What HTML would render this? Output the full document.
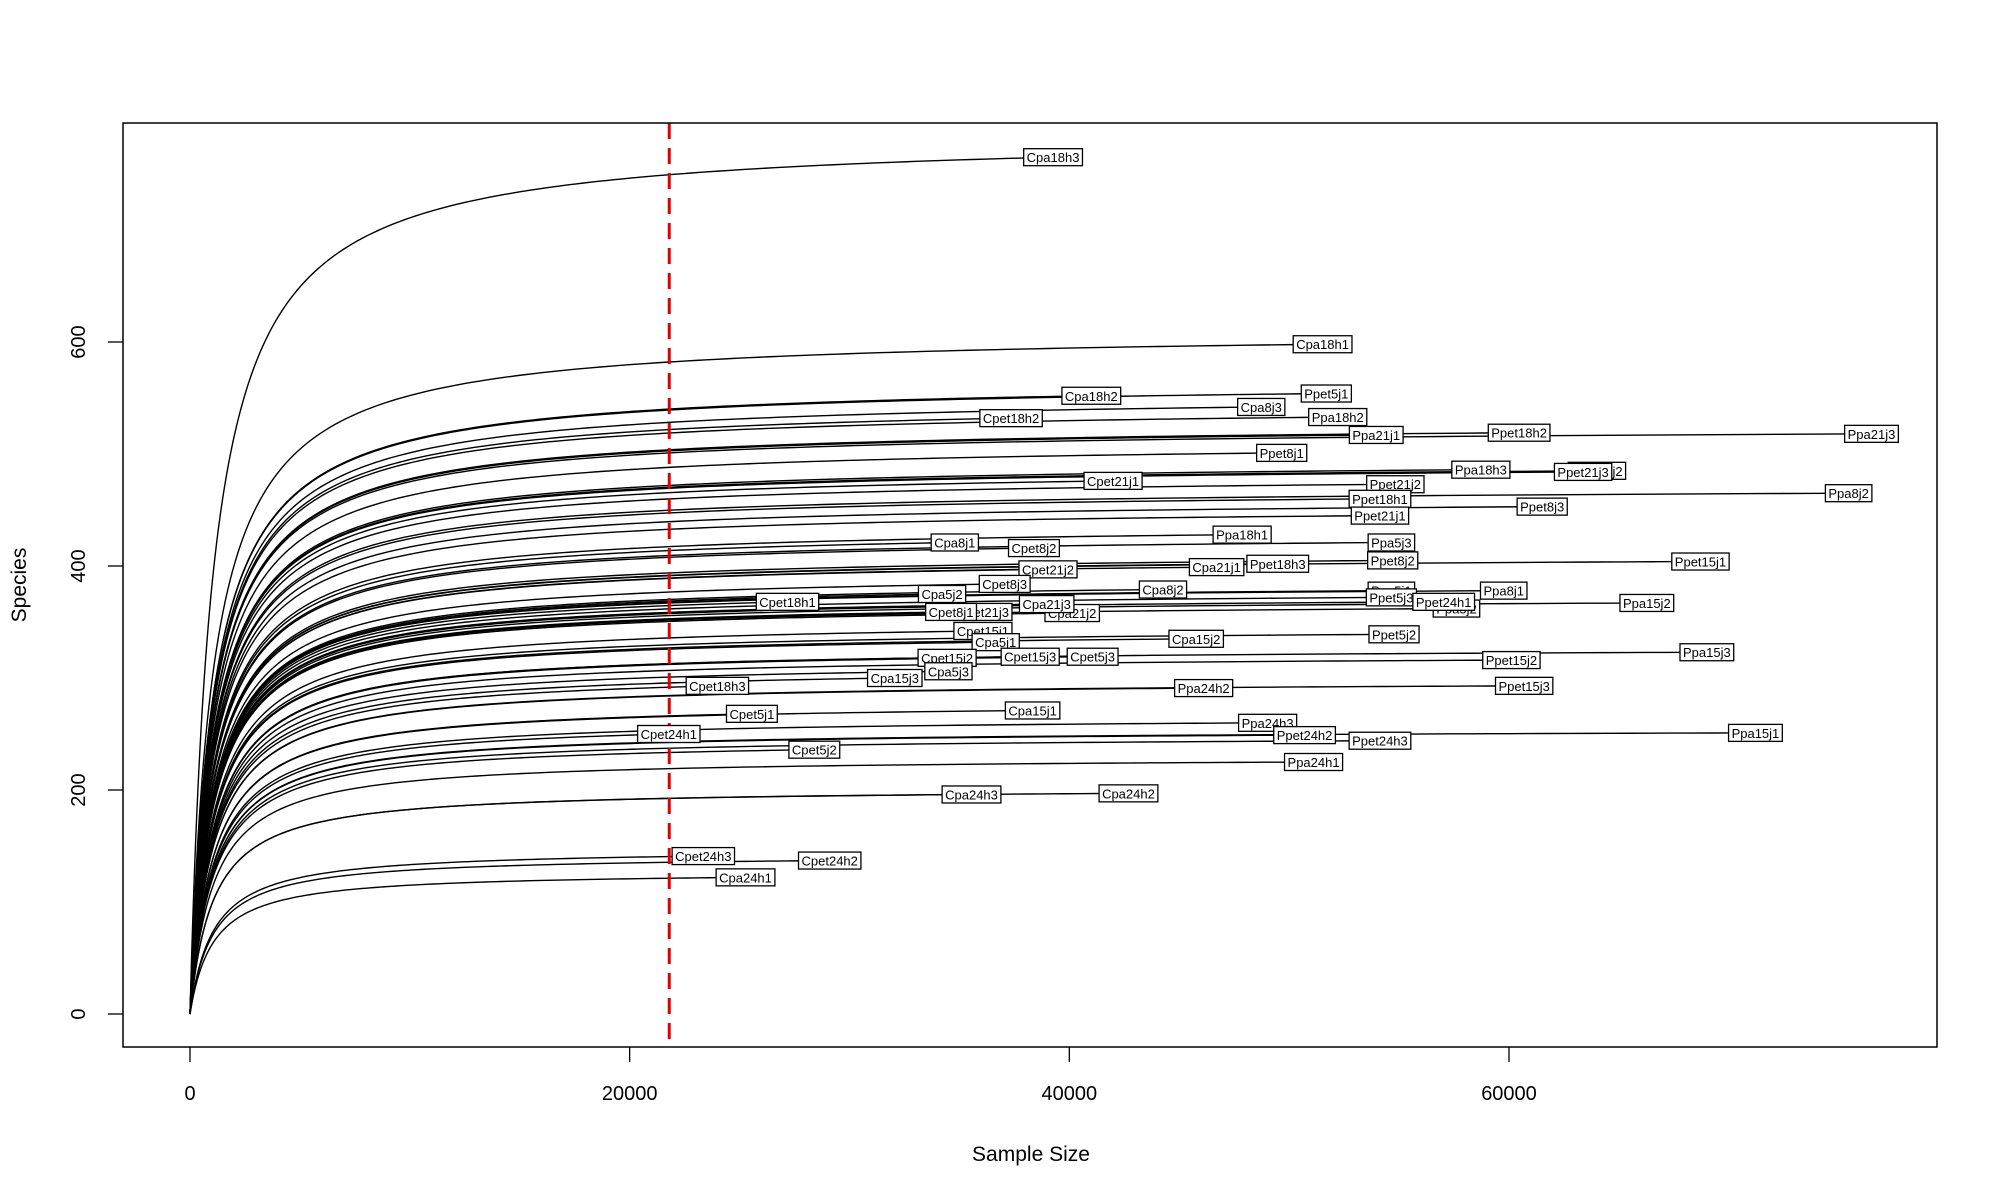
<!DOCTYPE html>
<html><head><meta charset="utf-8"><title>Rarefaction curves</title>
<style>
html,body{margin:0;padding:0;background:#fff;}
svg{display:block;font-family:"Liberation Sans",sans-serif;}
</style></head>
<body>
<svg id="chart" width="2000" height="1200" viewBox="0 0 2000 1200" xmlns="http://www.w3.org/2000/svg">
<rect x="0" y="0" width="2000" height="1200" fill="#fff"/>
<g id="curves"></g>
<g id="threshold"></g>
<g id="labels"></g>
<rect x="123" y="123" width="1814" height="924" fill="none" stroke="#000" stroke-width="1.5"/>
<g id="axes"></g>
<text x="1031" y="1161" font-size="21" text-anchor="middle">Sample Size</text>
<text transform="translate(26,585) rotate(-90)" font-size="21" text-anchor="middle">Species</text>
</svg>
<script>
const sampleNames = ["Cpa18h3","Cpa18h1","Cpa18h2","Ppet5j1","Cpa8j3","Cpet18h2","Ppa18h2","Ppa21j1","Ppet18h2","Ppa21j3","Ppet8j1","Cpet21j1","Ppa18h3","Ppet21j3b","Ppet21j3","Ppet21j2","Ppet18h1","Ppa8j2","Ppet8j3","Ppet21j1","Ppa18h1","Cpa8j1","Cpet8j2","Ppa5j3","Ppet8j2","Ppet15j1","Cpet21j2","Cpa21j1","Ppet18h3","Cpet8j3","Cpa8j2","Cpa5j2","Cpet18h1","Ppa5j1","Ppet5j3","Ppa5j2","Ppet24h1","Ppa8j1","Ppa15j2","Cpet21j3","Cpa21j2","Cpa21j3","Cpet8j1","Cpet15j1","Cpa5j1","Cpa15j2","Ppet5j2","Cpet15j2","Cpet15j3","Cpet5j3","Ppet15j2","Ppa15j3","Cpa5j3","Cpa15j3","Cpet18h3","Ppa24h2","Ppet15j3","Cpet5j1","Cpa15j1","Ppa24h3","Ppet24h2","Cpet24h1","Ppet24h3","Ppa15j1","Cpet5j2","Ppa24h1","Cpa24h3","Cpa24h2","Cpet24h3","Cpet24h2","Cpa24h1"];
const sampleSizes = [39260,51520,41000,51690,48730,37350,52210,53960,60460,76490,49660,41990,58720,64000,63370,54830,54130,75450,61510,54130,47860,34790,38390,54650,54710,68710,39030,46700,49480,37060,44260,34210,27180,54650,54650,57610,57030,59760,66270,36070,40130,38970,34620,36070,36650,45770,54770,34440,38220,41060,60110,69000,34500,32060,23990,46110,60690,25560,38330,49020,50700,21780,54130,71210,28400,51110,35550,42690,23350,29100,25270];
const speciesTotals = [765,598,552,554,542,532,533,517,519,518,501,476,486,485,484,473,460,465,453,445,428,421,416,421,405,404,397,399,402,384,379,375,368,378,372,362,368,378,367,359,358,366,359,342,332,335,339,318,319,319,316,323,306,300,293,291,293,268,271,260,249,250,244,251,236,225,196,197,141,137,122];
const labelTexts = ["Cpa18h3","Cpa18h1","Cpa18h2","Ppet5j1","Cpa8j3","Cpet18h2","Ppa18h2","Ppa21j1","Ppet18h2","Ppa21j3","Ppet8j1","Cpet21j1","Ppa18h3","Ppet21j2","Ppet21j3","Ppet21j2","Ppet18h1","Ppa8j2","Ppet8j3","Ppet21j1","Ppa18h1","Cpa8j1","Cpet8j2","Ppa5j3","Ppet8j2","Ppet15j1","Cpet21j2","Cpa21j1","Ppet18h3","Cpet8j3","Cpa8j2","Cpa5j2","Cpet18h1","Ppa5j1","Ppet5j3","Ppa5j2","Ppet24h1","Ppa8j1","Ppa15j2","Cpet21j3","Cpa21j2","Cpa21j3","Cpet8j1","Cpet15j1","Cpa5j1","Cpa15j2","Ppet5j2","Cpet15j2","Cpet15j3","Cpet5j3","Ppet15j2","Ppa15j3","Cpa5j3","Cpa15j3","Cpet18h3","Ppa24h2","Ppet15j3","Cpet5j1","Cpa15j1","Ppa24h3","Ppet24h2","Cpet24h1","Ppet24h3","Ppa15j1","Cpet5j2","Ppa24h1","Cpa24h3","Cpa24h2","Cpet24h3","Cpet24h2","Cpa24h1"];
const xTicks = [0,20000,40000,60000];
const yTicks = [0,200,400,600];
const thresholdSize = [21800];
const halfSat = [1050];

const NS="http://www.w3.org/2000/svg";
function sx(v){return 190 + v*(1509-190)/60000;}
function sy(v){return 1014 - v*(1014-342)/600;}
function mk(tag,attrs,parent){const e=document.createElementNS(NS,tag);for(const k in attrs)e.setAttribute(k,attrs[k]);parent.appendChild(e);return e;}

const curves=document.getElementById('curves');
const k=halfSat[0];
for(let i=0;i<sampleNames.length;i++){
  const N=sampleSizes[i],S=speciesTotals[i];
  const gN=N/(k+N);
  let d='';
  const steps=160;
  for(let j=0;j<=steps;j++){
    const t=j/steps;
    const n=N*Math.pow(t,2.2);
    const s=S*(n/(k+n))/gN;
    d+=(j?'L':'M')+sx(n).toFixed(2)+','+sy(s).toFixed(2);
  }
  const p=mk('path',{d:d,fill:'none',stroke:'#000','stroke-width':'1.4'},curves);
  
  
}

const th=document.getElementById('threshold');
const tl=mk('line',{x1:sx(thresholdSize[0]),x2:sx(thresholdSize[0]),y1:123,y2:1047,stroke:'#e00000','stroke-width':'3','stroke-dasharray':'16,9'},th);



const labels=document.getElementById('labels');
for(let i=0;i<labelTexts.length;i++){
  const g=mk('g',{},labels);
  
  
  const cx=sx(sampleSizes[i]),cy=sy(speciesTotals[i]);
  const r=mk('rect',{fill:'#fff',stroke:'#000','stroke-width':'1.3'},g);
  const t=mk('text',{x:cx,y:cy+5,'font-size':'13','text-anchor':'middle'},g);
  t.textContent=labelTexts[i];
  const w=t.getComputedTextLength();
  r.setAttribute('x',cx-w/2-3);r.setAttribute('y',cy-8.5);
  r.setAttribute('width',w+6);r.setAttribute('height',17);
}

const axes=document.getElementById('axes');
for(const v of xTicks){
  const l=mk('line',{x1:sx(v),x2:sx(v),y1:1047,y2:1062,stroke:'#000','stroke-width':'1.3'},axes);
  
  
  const t=mk('text',{x:sx(v),y:1100,'font-size':'20','text-anchor':'middle'},axes);
  
  
  t.textContent=v;
}
for(const v of yTicks){
  const l=mk('line',{x1:108,x2:123,y1:sy(v),y2:sy(v),stroke:'#000','stroke-width':'1.3'},axes);
  
  
  const t=mk('text',{'font-size':'20','text-anchor':'middle',transform:'translate(85,'+sy(v)+') rotate(-90)'},axes);
  
  
  t.textContent=v;
}
</script>
</body></html>
